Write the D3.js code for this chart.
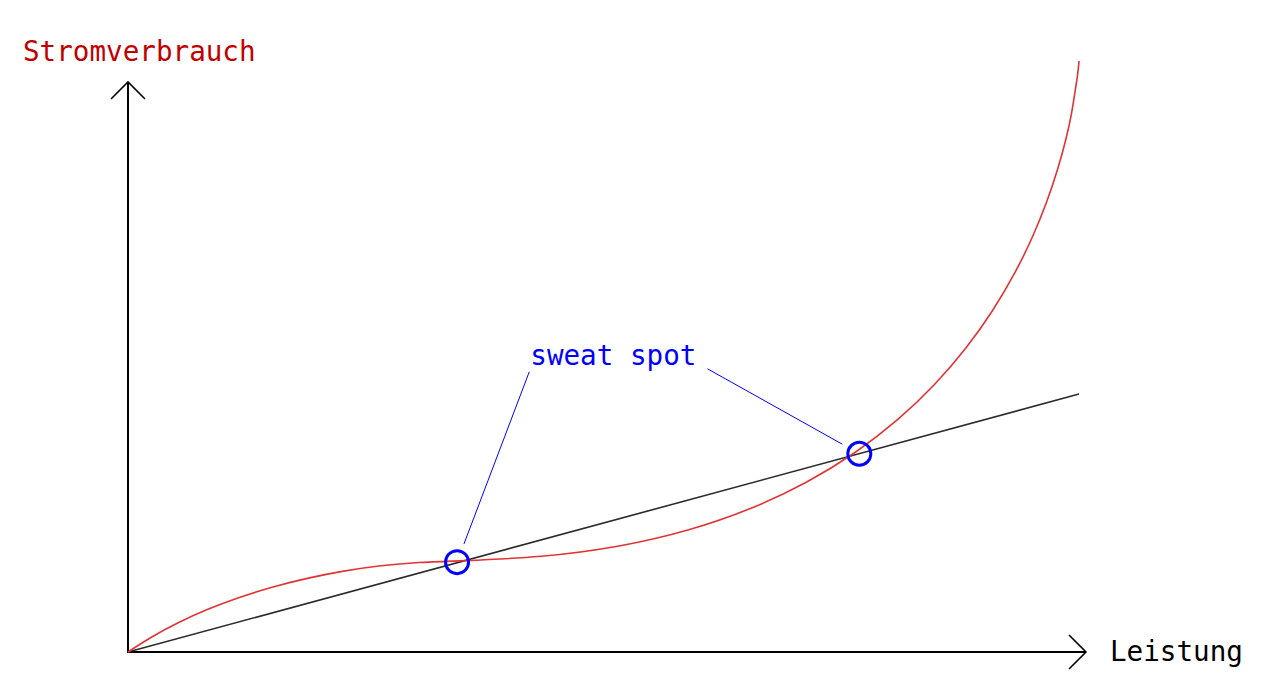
<!DOCTYPE html>
<html>
<head>
<meta charset="utf-8">
<script src="https://cdn.jsdelivr.net/npm/d3@7"></script>
<style>
  html, body { margin: 0; padding: 0; background: #fff; }
  svg { display: block; }
  text { font-family: "DejaVu Sans Mono", monospace; }
</style>
</head>
<body>
<svg id="chart" width="1281" height="698"></svg>
<script>
// ---- data (x: Leistung, y: Stromverbrauch, arbitrary units 0..100) ----
const curveX = [0, 2.45, 5.23, 8.29, 11.59, 15.13, 18.83, 22.67, 26.59, 30.59, 34.60,
                43.61, 51.76, 59.10, 65.63, 71.43, 76.55, 81.02, 84.87, 88.17, 90.96,
                93.27, 95.15, 96.64, 97.79, 98.65, 99.25, 99.58, 99.87, 100];
const curveY = [0, 2.57, 4.97, 7.22, 9.22, 11.00, 12.50, 13.74, 14.65, 15.19, 15.40,
                16.01, 17.77, 20.54, 24.20, 28.61, 33.67, 39.24, 45.18, 51.37, 57.70,
                64.03, 70.22, 76.16, 81.73, 86.78, 91.20, 94.84, 97.63, 100];
const lineX = [0, 100];
const lineY = [0, 43.65];
const spotX = [34.6, 76.9];
const spotY = [15.2, 33.55];
const spotLabel = "sweat spot";
const labelPos = [42.3, 48.6];
const xLabel = "Leistung";
const yLabel = "Stromverbrauch";

// ---- layout ----
const svg = d3.select("#chart");
const x = d3.scaleLinear().domain([0, 100]).range([128, 1079]);
const y = d3.scaleLinear().domain([0, 100]).range([652, 61]);
const fontSize = 27.6;

// axes (no ticks) with arrow heads
const axisG = svg.append("g");
const xEnd = x(100) + 7, yEnd = y(0) - 570;
axisG.append("path")
  .attr("d", `M${x(0)},${y(0)}H${xEnd}`)
  .attr("stroke", "#000").attr("stroke-width", 2).attr("fill", "none");
axisG.append("path")
  .attr("d", `M${x(0)},${y(0) + 1}V${yEnd}`)
  .attr("stroke", "#000").attr("stroke-width", 2).attr("fill", "none");
const ah = 17;
axisG.append("path")
  .attr("d", `M${xEnd - ah},${y(0) - ah}L${xEnd},${y(0)}L${xEnd - ah},${y(0) + ah}`)
  .attr("stroke", "#000").attr("stroke-width", 1.6).attr("fill", "none");
axisG.append("path")
  .attr("d", `M${x(0) - ah},${yEnd + ah}L${x(0)},${yEnd}L${x(0) + ah},${yEnd + ah}`)
  .attr("stroke", "#000").attr("stroke-width", 1.6).attr("fill", "none");

// linear reference line
const lineData = lineX.map((v, i) => [v, lineY[i]]);
svg.append("path")
  .datum(lineData)
  .attr("d", d3.line().x(d => x(d[0])).y(d => y(d[1])))
  .attr("stroke", "#2b2b2b").attr("stroke-width", 1.6).attr("fill", "none");

// red consumption curve
const curveData = curveX.map((v, i) => [v, curveY[i]]);
svg.append("path")
  .datum(curveData)
  .attr("d", d3.line().x(d => x(d[0])).y(d => y(d[1])).curve(d3.curveBasis))
  .attr("stroke", "#e03434").attr("stroke-width", 1.6).attr("fill", "none");

// sweet spot circles
const spots = spotX.map((v, i) => [v, spotY[i]]);
svg.selectAll("circle.spot").data(spots).join("circle")
  .attr("class", "spot")
  .attr("cx", d => x(d[0])).attr("cy", d => y(d[1]))
  .attr("r", 11.5)
  .attr("fill", "none").attr("stroke", "#0000ff").attr("stroke-width", 3);

// label
const lbl = svg.append("text")
  .attr("x", x(labelPos[0])).attr("y", y(labelPos[1]))
  .attr("fill", "#0000ff").attr("font-size", fontSize)
  .text(spotLabel);
const bb = lbl.node().getBBox();
const anchors = [
  [x(labelPos[0]) - 1, y(labelPos[1]) + 7],
  [bb.x + bb.width + 11, y(labelPos[1]) + 4]
];
spots.forEach((d, i) => {
  const cx = x(d[0]), cy = y(d[1]);
  const [ax, ay] = anchors[i];
  const dx = ax - cx, dy = ay - cy, len = Math.hypot(dx, dy);
  const off = 19.5;
  svg.append("line")
    .attr("x1", cx + dx / len * off).attr("y1", cy + dy / len * off)
    .attr("x2", ax).attr("y2", ay)
    .attr("stroke", "#0000ff").attr("stroke-width", 1);
});

// axis labels
svg.append("text")
  .attr("x", 1110).attr("y", 661)
  .attr("fill", "#000").attr("font-size", fontSize)
  .text(xLabel);
svg.append("text")
  .attr("x", 23).attr("y", 61)
  .attr("fill", "#c00000").attr("font-size", fontSize)
  .text(yLabel);
</script>
</body>
</html>
